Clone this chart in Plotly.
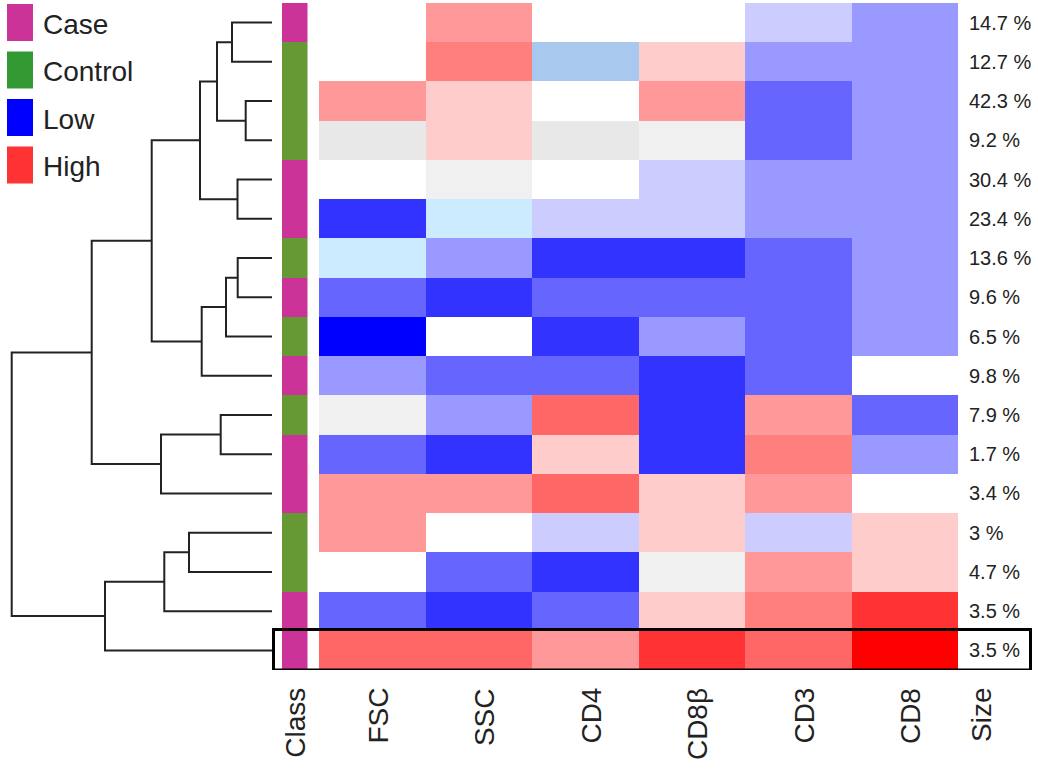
import plotly.graph_objects as go

W, H = 1038, 769

# ---------------- data ----------------
MARKERS = ["FSC", "SSC", "CD4", "CD8\u03b2", "CD3", "CD8"]
SIZES = ["14.7 %", "12.7 %", "42.3 %", "9.2 %", "30.4 %", "23.4 %", "13.6 %", "9.6 %",
         "6.5 %", "9.8 %", "7.9 %", "1.7 %", "3.4 %", "3 %", "4.7 %", "3.5 %", "3.5 %"]
CLASS = ["Case", "Control", "Control", "Control", "Case", "Case", "Control", "Case",
         "Control", "Case", "Control", "Case", "Case", "Control", "Control", "Case", "Case"]
CLASS_NAMES = ["Case", "Control"]
CLASS_COLORS = ["#CC3399", "#669933"]

# colour level of each cell (index into PALETTE)
PALETTE = ["#0000FF", "#3333FF", "#6666FF", "#9999FF", "#CCCCFF", "#FFFFFF",
           "#FFCCCC", "#FF9999", "#FF6666", "#FF3333", "#FF0000",
           "#E8E8E8", "#F0F0F0", "#CCEBFF", "#A8C8EE", "#FF7F7F"]
LEVELS = [
    [5, 7, 5, 5, 4, 3],
    [5, 15, 14, 6, 3, 3],
    [7, 6, 5, 7, 2, 3],
    [11, 6, 11, 12, 2, 3],
    [5, 12, 5, 4, 3, 3],
    [1, 13, 4, 4, 3, 3],
    [13, 3, 1, 1, 2, 3],
    [2, 1, 2, 2, 2, 3],
    [0, 5, 1, 3, 2, 3],
    [3, 2, 2, 1, 2, 5],
    [12, 3, 8, 1, 7, 2],
    [2, 1, 6, 1, 15, 3],
    [7, 7, 8, 6, 7, 5],
    [7, 5, 4, 6, 4, 6],
    [5, 2, 1, 12, 7, 6],
    [2, 1, 2, 6, 15, 9],
    [8, 8, 7, 9, 8, 10],
]

# hierarchical clustering merges: (child_a, child_b, height); leaves 0..16, clusters 17..
MERGES = [
    (0, 1, 40), (2, 3, 26.3), (17, 18, 55), (4, 5, 34.5), (19, 20, 72),
    (6, 7, 34.3), (22, 8, 46), (23, 9, 70.3), (21, 24, 120.3),
    (10, 11, 51.3), (26, 12, 111), (25, 27, 180.3),
    (13, 14, 83), (29, 15, 107.7), (30, 16, 167), (28, 31, 260.3),
]

LEGEND_LABELS = ["Case", "Control", "Low", "High"]
LEGEND_COLORS = ["#CC3399", "#339933", "#0000FF", "#FF3333"]
HIGHLIGHT_ROW = 16

# ---------------- helpers ----------------
def px(xp):
    return xp / W

def py(yp):
    return 1 - yp / H

n_rows = len(LEVELS)
TEXT = "#222222"
FONT = "Arial, Liberation Sans, sans-serif"

fig = go.Figure()

# dendrogram
node_y = {i: float(i) for i in range(n_rows)}
node_h = {i: 0.0 for i in range(n_rows)}
dx, dy = [], []
for k, (a, b, h) in enumerate(MERGES):
    nid = n_rows + k
    dx += [node_h[a], h, h, node_h[b], None]
    dy += [node_y[a], node_y[a], node_y[b], node_y[b], None]
    node_y[nid] = (node_y[a] + node_y[b]) / 2
    node_h[nid] = h
fig.add_trace(go.Scatter(x=dx, y=dy, mode="lines", xaxis="x", yaxis="y",
                         line=dict(color=TEXT, width=2), hoverinfo="skip",
                         showlegend=False))

# class column
def discrete_scale(colors):
    n = len(colors)
    cs = []
    for i, c in enumerate(colors):
        cs.append([i / n, c])
        cs.append([(i + 1) / n, c])
    return cs

class_z = [[CLASS_NAMES.index(c)] for c in CLASS]
fig.add_trace(go.Heatmap(z=class_z, x=[0], y=list(range(n_rows)), xaxis="x2", yaxis="y",
                         colorscale=discrete_scale(CLASS_COLORS), zmin=-0.5,
                         zmax=len(CLASS_COLORS) - 0.5, showscale=False,
                         customdata=[[c] for c in CLASS],
                         hovertemplate="%{customdata}<extra></extra>"))

# main heatmap
fig.add_trace(go.Heatmap(z=LEVELS, x=list(range(len(MARKERS))), y=list(range(n_rows)),
                         xaxis="x3", yaxis="y",
                         colorscale=discrete_scale(PALETTE), zmin=-0.5,
                         zmax=len(PALETTE) - 0.5, showscale=False,
                         hoverinfo="skip"))

# axes
y_top_px, y_bot_px = 3, 670
hidden = dict(visible=False, showgrid=False, zeroline=False, fixedrange=True)
fig.update_layout(
    width=W, height=H,
    margin=dict(l=0, r=0, t=0, b=0),
    paper_bgcolor="white", plot_bgcolor="white",
    font=dict(family=FONT, color=TEXT),
    showlegend=False,
    xaxis=dict(domain=[0, px(272)], range=[272, 0], anchor="y", **hidden),
    xaxis2=dict(domain=[px(282), px(307.5)], range=[-0.5, 0.5], anchor="y", **hidden),
    xaxis3=dict(domain=[px(319), px(958)], range=[-0.5, len(MARKERS) - 0.5], anchor="y", **hidden),
    yaxis=dict(domain=[py(y_bot_px), py(y_top_px)], range=[n_rows - 0.5, -0.5], **hidden),
)

annotations = []
# size labels
for i, s in enumerate(SIZES):
    annotations.append(dict(x=px(967), xref="paper", y=i, yref="y", text=s,
                            showarrow=False, xanchor="left", yanchor="middle",
                            font=dict(size=20, color=TEXT, family=FONT)))
# column labels
label_top = py(686)
LABEL_SIZE = 28
annotations.append(dict(x=0, xref="x2", y=label_top, yref="paper", text="Class",
                        textangle=-90, showarrow=False, xanchor="center", yanchor="top",
                        font=dict(size=LABEL_SIZE, color=TEXT, family=FONT)))
for j, m in enumerate(MARKERS):
    annotations.append(dict(x=j + 0.05, xref="x3", y=label_top, yref="paper", text=m,
                            textangle=-90, showarrow=False, xanchor="center", yanchor="top",
                            font=dict(size=LABEL_SIZE, color=TEXT, family=FONT)))
annotations.append(dict(x=px(981), xref="paper", y=label_top, yref="paper", text="Size",
                        textangle=-90, showarrow=False, xanchor="center", yanchor="top",
                        font=dict(size=LABEL_SIZE, color=TEXT, family=FONT)))

# legend
shapes = []
for k, (lab, col) in enumerate(zip(LEGEND_LABELS, LEGEND_COLORS)):
    top = 4 + k * 47.5
    shapes.append(dict(type="rect", xref="paper", yref="paper",
                       x0=px(7), x1=px(33), y0=py(top + 37), y1=py(top),
                       fillcolor=col, line=dict(width=0)))
    annotations.append(dict(x=px(41), xref="paper", y=py(top + 20), yref="paper",
                            text=lab, showarrow=False, xanchor="left", yanchor="middle",
                            font=dict(size=28, color=TEXT, family=FONT)))

# highlight box around selected row
shapes.append(dict(type="rect", xref="paper", yref="y",
                   x0=px(273.5), x1=px(1030.5),
                   y0=HIGHLIGHT_ROW - 0.5 - 0.03, y1=HIGHLIGHT_ROW + 0.5,
                   line=dict(color="black", width=3), fillcolor="rgba(0,0,0,0)"))

fig.update_layout(annotations=annotations, shapes=shapes)
fig.write_html("out.html",
               config={"displayModeBar": False},
               post_script="document.body.style.margin='0';document.body.style.overflow='hidden';")
